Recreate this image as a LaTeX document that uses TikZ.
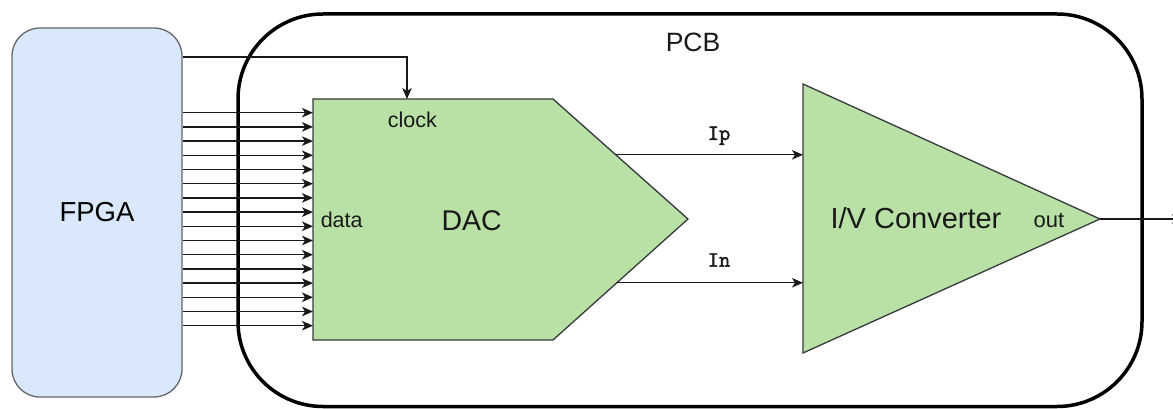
\documentclass[tikz,border=0pt]{standalone}
\usepackage{fontspec}
\setmainfont{Liberation Sans}
\newfontfamily\monofont[FakeBold=2]{Latin Modern Mono}
\usetikzlibrary{arrows.meta,calc}
\definecolor{fpgafill}{RGB}{218,232,252}
\definecolor{fpgaline}{RGB}{102,102,102}
\definecolor{greenfill}{RGB}{185,224,165}
\definecolor{darkline}{RGB}{54,57,61}
\tikzset{
  arr/.style={draw=black!90, line width=1.3pt, -{Stealth[length=11pt,width=9.5pt,inset=3pt]}},
  fpgabox/.style={draw=fpgaline, fill=fpgafill, line width=1.3pt, rounded corners=28pt,
     minimum width=170pt, minimum height=369pt, inner sep=0pt, font=\fontsize{27.5}{30}\selectfont},
  greenshape/.style={draw=darkline, fill=greenfill, line width=1.3pt, line join=miter},
  lbl/.style={anchor=base, inner sep=0pt, text=black!90},
}
\begin{document}
\begin{tikzpicture}[x=1pt,y=-1pt]
\useasboundingbox (0,0) rectangle (1173,409);
\clip (0,0) rectangle (1173,409);
% PCB
\draw[line width=3.5pt, rounded corners=85pt] (238,14) rectangle (1142,406.5);
\node[lbl, font=\fontsize{26.5}{28}\selectfont] (pcb) at (693,51.7) {PCB};
% FPGA
\node[fpgabox] (fpga) at (97,212.5) {FPGA};
% DAC
\coordinate (dacnw) at (313,99);
\coordinate (dacne) at (553,99);
\coordinate (dactip) at (688,219);
\coordinate (dacse) at (553,340);
\coordinate (dacsw) at (313,340);
\draw[greenshape] (dacnw) -- (dacne) -- (dactip) -- (dacse) -- (dacsw) -- cycle;
\node[lbl, font=\fontsize{28.5}{30}\selectfont] (dac) at (471.7,230) {DAC};
\node[lbl, font=\fontsize{21.5}{24}\selectfont] (data) at (341.7,227.3) {data};
\node[lbl, font=\fontsize{21.5}{24}\selectfont] (clock) at (412.3,127.3) {clock};
% I/V converter
\coordinate (ivtop) at (803,84);
\coordinate (ivtip) at (1100,219);
\coordinate (ivbot) at (803,353);
\draw[greenshape] (ivtop) -- (ivtip) -- (ivbot) -- cycle;
\node[lbl, font=\fontsize{29}{30}\selectfont] (iv) at (916,228.3) {I/V Converter};
\node[lbl, font=\fontsize{22}{24}\selectfont] (out) at (1049,227) {out};
% clock connector
\coordinate (clkin) at (407,99);
\draw[arr] (fpga.east |- 0,57) -| (clkin);
% data bus
\foreach \i in {0,...,15}{
  \draw[arr] (fpga.east |- 0,{112.7+\i*14.2}) -- (dacnw |- 0,{112.7+\i*14.2});
}
% Ip / In
\coordinate (ipout) at ($(dacne)!0.465!(dactip)$);
\coordinate (inout) at ($(dacse)!0.473!(dactip)$);
\draw[arr] (ipout) -- (ivtop |- ipout);
\draw[arr] (inout) -- (ivtop |- inout);
\node[lbl, font=\monofont\fontsize{22}{24}\selectfont] (ip) at (719,140) {Ip};
\node[lbl, font=\monofont\fontsize{22}{24}\selectfont] (in) at (719,266.7) {In};
% output
\coordinate (outend) at (1183,219);
\draw[arr] (ivtip) -- (outend);
\end{tikzpicture}
\end{document}
